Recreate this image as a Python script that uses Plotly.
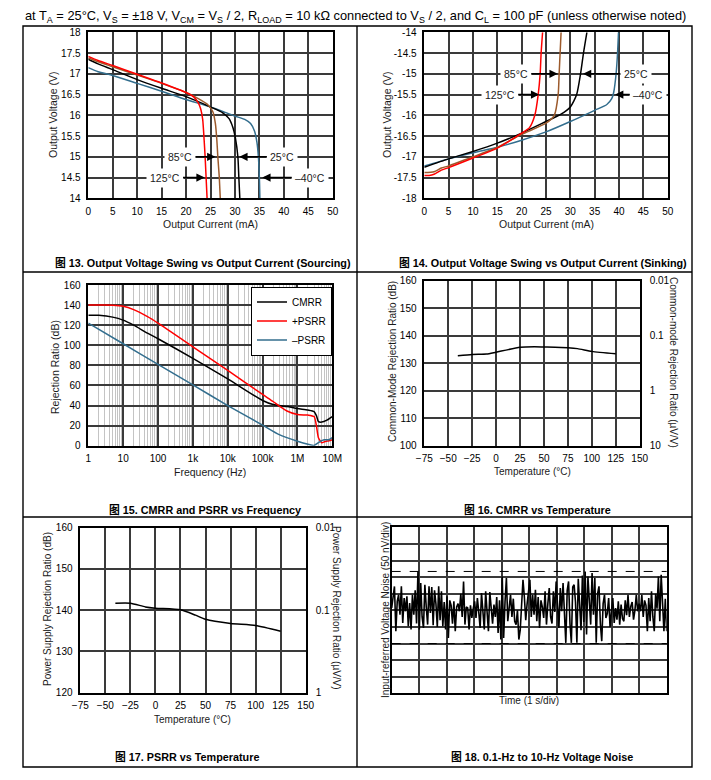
import plotly.graph_objects as go
import numpy as np

W, H = 711, 780
FONT = "Liberation Sans, Arial, Noto Sans CJK SC, sans-serif"

# ---------------- DATA ----------------
# Fig 13: sourcing (Output Current mA, Output Voltage V)
src_125_i = [0, 2, 5, 10, 15, 20, 21.5, 22.5, 23.0, 23.4, 23.7, 23.9, 24.1, 24.3]
src_125_v = [17.42, 17.32, 17.2, 16.99, 16.78, 16.55, 16.45, 16.3, 16.15, 15.9, 15.4, 15.0, 14.5, 14.0]
src_85_i = [0, 2, 5, 10, 15, 20, 22.5, 24.5, 25.5, 26.0, 26.3, 26.5, 26.8, 27.0]
src_85_v = [17.38, 17.29, 17.17, 16.97, 16.77, 16.55, 16.4, 16.25, 16.08, 15.8, 15.4, 15.0, 14.5, 14.0]
src_25_i = [0, 2, 5, 10, 15, 20, 25, 27.5, 28.8, 29.6, 30.1, 30.6, 30.8, 31.0]
src_25_v = [17.35, 17.24, 17.1, 16.86, 16.65, 16.45, 16.2, 16.06, 15.92, 15.7, 15.45, 15.0, 14.5, 14.0]
src_m40_i = [0, 2, 5, 10, 15, 20, 25, 28, 30, 32, 33.2, 34.0, 34.5, 34.8, 35.0, 35.1]
src_m40_v = [17.15, 17.05, 16.96, 16.77, 16.58, 16.38, 16.2, 16.07, 15.98, 15.9, 15.8, 15.62, 15.35, 15.0, 14.5, 14.0]

# Fig 14: sinking
snk_125_i = [0, 1, 2, 3.5, 5, 10, 15, 20, 21.6, 22.7, 23.4, 23.8, 24.0, 24.3]
snk_125_v = [-17.45, -17.45, -17.42, -17.32, -17.26, -17.03, -16.79, -16.43, -16.3, -16.0, -15.5, -15.0, -14.5, -14.0]
snk_85_i = [0, 2, 3.5, 5, 10, 15, 20, 25, 26.7, 27.5, 27.7, 27.9, 28.1]
snk_85_v = [-17.38, -17.36, -17.27, -17.22, -17.0, -16.77, -16.46, -16.19, -16.0, -15.5, -15.0, -14.5, -14.0]
snk_25_i = [0, 5, 10, 15, 20, 25, 28, 30, 31.3, 32.1, 32.7, 33.4]
snk_25_v = [-17.25, -17.05, -16.87, -16.67, -16.43, -16.15, -15.98, -15.8, -15.5, -15.0, -14.5, -14.0]
snk_m40_i = [0, 5, 10, 15, 20, 25, 30, 35, 37.5, 38.5, 38.9, 39.4, 39.7, 39.9]
snk_m40_v = [-17.22, -17.05, -16.9, -16.77, -16.6, -16.4, -16.15, -15.88, -15.74, -15.6, -15.45, -15.0, -14.5, -14.0]
snk_ytick_vals = [-18, -17.5, -17, -16.5, -16, -15.5, -15, -14.5, -14]
snk_ytick_text = ['-18', '-17.5', '-17', '-16.5', '-16', '-15.5', '-15', '-14.5', '-14']

# Fig 15: CMRR / PSRR vs frequency
f_cmrr = [1, 2, 5, 10, 20, 50, 100, 1e3, 1e4, 1e5, 2e5, 5e5, 1e6, 2e6, 3e6, 3.5e6, 4e6, 5e6, 7e6, 1e7]
cmrr_db = [130, 129.8, 128, 125, 120, 112, 106.5, 87, 66.5, 45, 41, 39, 37, 35.5, 34, 30, 24, 23.5, 25.5, 29]
f_psrr_p = [1, 3, 5, 10, 20, 50, 100, 1e3, 1e4, 1e5, 2e5, 3e5, 5e5, 1e6, 2e6, 3e6, 3.5e6, 4e6, 5e6, 6e6, 8e6, 1e7]
psrr_p_db = [140, 140, 139.8, 138.8, 135.5, 128.5, 122, 98.5, 75, 51, 44, 39.5, 34.5, 31, 30.5, 29, 20, 8, 3, 4, 5, 6]
f_psrr_n = [1, 10, 100, 1e3, 1e4, 1e5, 3e5, 1e6, 2e6, 3e6, 4e6, 5e6, 6e6, 8e6, 1e7]
psrr_n_db = [122, 101.5, 81, 60.5, 40, 20.5, 11, 4.5, 1.5, 0.3, 3, 5, 6, 6, 8]
freq_tick_vals = [1, 10, 100, 1e3, 1e4, 1e5, 1e6, 1e7]
freq_tick_text = ['1', '10', '100', '1k', '10k', '100k', '1M', '10M']

# Fig 16: CMRR vs temperature
temp_cmrr = [-40, -25, -10, 0, 25, 40, 50, 75, 85, 100, 125]
cmrr_temp_db = [132.7, 133.2, 133.3, 134.0, 135.8, 136.0, 135.9, 135.6, 135.3, 134.3, 133.4]
cmrr_right_vals = [160, 140, 120, 100]
cmrr_right_text = ['0.01', '0.1', '1', '10']

# Fig 17: PSRR vs temperature
temp_psrr = [-40, -25, -10, 0, 25, 40, 50, 75, 100, 125]
psrr_temp_db = [141.7, 141.7, 140.8, 140.5, 140.1, 138.8, 137.8, 136.8, 136.3, 134.9]
psrr_right_vals = [160, 140, 120]
psrr_right_text = ['0.01', '0.1', '1']

# Fig 18: 0.1-Hz to 10-Hz noise (nV)
noise_nv = [
    7, 47, 72, -63, 27, 47, -13, 72, -38, 37, -3, 42, -48, 22, -58, 47, -13, 60, -40, 117,
    -58, 82, -20, -53, 77, 10, -43, 72, -8, 70, -45, 60, 20, -50, 72, -30, 57, -48, 25, -58,
    42, -83, 30, 15, -40, 27, -63, 10, 20, -3, 50, -20, 87, -43, 10, 7, -58, 15, -23, 5,
    27, -23, 37, -5, -53, 52, -10, -58, 57, -20, -63, 55, 5, -40, 17, -20, 40, -68, 30, -88,
    102, -83, 25, 97, -33, 10, 47, -20, 35, -33, -43, 0, -88, -60, 15, 92, 40, -30, 20, 60,
    92, -20, 47, -13, 62, -33, 40, -53, 30, 10, -23, 57, -43, 20, 67, -20, -40, 57, -5, 87,
    20, -53, 67, -3, 82, -8, -98, 60, 87, -40, -98, 70, 77, 25, -98, 95, 30, -60, 105, -35,
    117, -73, 102, 10, -43, 112, -13, 97, -98, 50, 72, -40, -93, 20, 47, -23, -10, 37, -50, -3,
    37, -38, 7, -28, 27, -43, 17, -25, -33, 30, -15, 47, -20, 12, 25, -28, 0, 47, -3, 20,
    -3, 47, -20, 30, 15, -63, 37, -33, 57, -20, -63, 50, 5, 102, -33, 107, -5, -63, 35, -63,
]
noise_limits_nv = [117, -100]
noise_seconds = 10

# ---------------- STYLE / LAYOUT HELPERS ----------------
RED = '#ff0000'
BROWN = '#9c5a2c'
BLACK = '#000000'
BLUE = '#336e8e'
GRID = '#3a3a3a'


def fx(p):
    return p / W


def fy(p):
    return 1 - p / H


def xdom(a, b):
    return [fx(a), fx(b)]


def ydom(top, bottom):
    return [fy(bottom), fy(top)]


axis_common = dict(showgrid=True, gridcolor=GRID, gridwidth=1.7, showline=True,
                   linecolor='black', linewidth=1.5, mirror=True, zeroline=False,
                   ticks='', tickfont=dict(size=10, color='black', family=FONT),
                   fixedrange=True, automargin=False)
xa_common = dict(axis_common, ticklabelstandoff=3)
ya_common = dict(axis_common, ticklabelstandoff=4)
yr_common = dict(axis_common, ticklabelstandoff=9, showgrid=False, showline=False)

fig = go.Figure()


def line(x, y, color, xa, ya, name=None, legend=False, width=1.5):
    fig.add_trace(go.Scatter(x=x, y=y, mode='lines', name=name, showlegend=legend,
                             line=dict(color=color, width=width, shape='spline', smoothing=0.6),
                             xaxis=xa, yaxis=ya, hoverinfo='skip'))


# Fig 13
line(src_m40_i, src_m40_v, BLUE, 'x', 'y')
line(src_25_i, src_25_v, BLACK, 'x', 'y')
line(src_85_i, src_85_v, BROWN, 'x', 'y')
line(src_125_i, src_125_v, RED, 'x', 'y')
# Fig 14
line(snk_m40_i, snk_m40_v, BLUE, 'x2', 'y2')
line(snk_25_i, snk_25_v, BLACK, 'x2', 'y2')
line(snk_85_i, snk_85_v, BROWN, 'x2', 'y2')
line(snk_125_i, snk_125_v, RED, 'x2', 'y2')
# Fig 15
line(f_cmrr, cmrr_db, BLACK, 'x3', 'y3', 'CMRR', True)
line(f_psrr_p, psrr_p_db, RED, 'x3', 'y3', '+PSRR', True)
line(f_psrr_n, psrr_n_db, BLUE, 'x3', 'y3', '\u2013PSRR', True)
# Fig 16
line(temp_cmrr, cmrr_temp_db, BLACK, 'x4', 'y4')
fig.add_trace(go.Scatter(x=temp_cmrr, y=cmrr_temp_db, mode='lines', showlegend=False,
                         line=dict(color='rgba(0,0,0,0)'), xaxis='x4', yaxis='y7', hoverinfo='skip'))
# Fig 17
line(temp_psrr, psrr_temp_db, BLACK, 'x5', 'y5')
fig.add_trace(go.Scatter(x=temp_psrr, y=psrr_temp_db, mode='lines', showlegend=False,
                         line=dict(color='rgba(0,0,0,0)'), xaxis='x5', yaxis='y8', hoverinfo='skip'))
# Fig 18
t_noise = np.linspace(0, noise_seconds, len(noise_nv))
fig.add_trace(go.Scatter(x=t_noise, y=noise_nv, mode='lines', showlegend=False,
                         line=dict(color='black', width=1.6), xaxis='x6', yaxis='y6', hoverinfo='skip'))

# axes
fig.update_layout(
    xaxis=dict(xa_common, domain=xdom(88.3, 332.7), anchor='y', range=[0, 50], dtick=5, tick0=0),
    yaxis=dict(ya_common, domain=ydom(32.3, 198.3), anchor='x', range=[14, 18], dtick=0.5, tick0=14),
    xaxis2=dict(xa_common, domain=xdom(424.3, 667.7), anchor='y2', range=[0, 50], dtick=5, tick0=0),
    yaxis2=dict(ya_common, domain=ydom(32.3, 198.3), anchor='x2', range=[-18, -14],
                tickmode='array', tickvals=snk_ytick_vals, ticktext=snk_ytick_text),
    xaxis3=dict(xa_common, domain=xdom(88.3, 332.3), anchor='y3', type='log', range=[0, 7],
                tickmode='array', tickvals=freq_tick_vals, ticktext=freq_tick_text,
                minor=dict(showgrid=True, gridcolor='#c4c4c4', gridwidth=1, dtick='D1', ticks='')),
    yaxis3=dict(ya_common, domain=ydom(285, 445.7), anchor='x3', range=[0, 160], dtick=20, tick0=0),
    xaxis4=dict(xa_common, domain=xdom(424.3, 639.7), anchor='y4', range=[-75, 150], dtick=25, tick0=-75),
    yaxis4=dict(ya_common, domain=ydom(280.7, 445.7), anchor='x4', range=[100, 160], dtick=10, tick0=100),
    yaxis7=dict(yr_common, overlaying='y4', side='right', anchor='x4', range=[100, 160],
                tickmode='array', tickvals=cmrr_right_vals, ticktext=cmrr_right_text),
    xaxis5=dict(xa_common, domain=xdom(80.3, 305.7), anchor='y5', range=[-75, 150], dtick=25, tick0=-75),
    yaxis5=dict(ya_common, domain=ydom(527.7, 692.7), anchor='x5', range=[120, 160], dtick=10, tick0=120),
    yaxis8=dict(yr_common, overlaying='y5', side='right', anchor='x5', range=[120, 160],
                tickmode='array', tickvals=psrr_right_vals, ticktext=psrr_right_text),
    xaxis6=dict(xa_common, domain=xdom(391.7, 666.7), anchor='y6', range=[0, noise_seconds], dtick=1,
                showticklabels=False),
    yaxis6=dict(ya_common, domain=ydom(527.3, 693.3), anchor='x6', range=[-250, 250], dtick=50,
                tick0=-250, showticklabels=False),
)

# noise limit dashed lines
for lv in noise_limits_nv:
    fig.add_shape(type='line', xref='x6 domain', yref='y6', x0=0, x1=1, y0=lv, y1=lv,
                  line=dict(color='black', width=1, dash='dash'))

# table borders
tbl = dict(color='black', width=1.4)
fig.add_shape(type='rect', xref='paper', yref='paper', x0=fx(23), x1=fx(692), y0=fy(767), y1=fy(26), line=tbl)
fig.add_shape(type='line', xref='paper', yref='paper', x0=fx(357), x1=fx(357), y0=fy(767), y1=fy(26), line=tbl)
for yy in (272, 517):
    fig.add_shape(type='line', xref='paper', yref='paper', x0=fx(23), x1=fx(692), y0=fy(yy), y1=fy(yy), line=tbl)

ann = []
TF = dict(size=10.5, color='#1a1a1a', family=FONT)
TFS = dict(size=10, color='#1a1a1a', family=FONT)


def htitle(text, x, y, font=TF):
    ann.append(dict(text=text, x=fx(x), y=fy(y), xref='paper', yref='paper', showarrow=False,
                    font=font, xanchor='center', yanchor='middle'))


def vtitle(text, x, y, angle, font=TF):
    ann.append(dict(text=text, x=fx(x), y=fy(y), xref='paper', yref='paper', showarrow=False,
                    textangle=angle, font=font, xanchor='center', yanchor='middle'))


vtitle('Output Voltage (V)', 53, 115, -90)
htitle('Output Current (mA)', 210, 224)
vtitle('Output Voltage (V)', 387, 115, -90)
htitle('Output Current (mA)', 546, 224)
vtitle('Rejection Ratio (dB)', 55, 367, -90)
htitle('Frequency (Hz)', 210, 472)
vtitle('Common-Mode Rejection Ratio (dB)', 392, 362, -90, TFS)
htitle('Temperature (\u00b0C)', 532, 472, TFS)
vtitle('Common-mode Rejection Ratio (\u00b5V/V)', 674, 362, 90, TFS)
vtitle('Power Supply Rejection Ratio (dB)', 47, 609, -90, TFS)
htitle('Temperature (\u00b0C)', 193, 719, TFS)
vtitle('Power Supply Rejection Ratio (\u00b5V/V)', 337, 608, 90, TFS)
vtitle('Input-referred Voltage Noise (50 nV/div)', 385, 610, -90, TFS)
htitle('Time (1 s/div)', 529, 700, TFS)

# captions
CF = dict(size=10.8, color='black', family=FONT)
for text, x, y in [
    ('<b>\u56fe 13. Output Voltage Swing vs Output Current (Sourcing)</b>', 203, 263),
    ('<b>\u56fe 14. Output Voltage Swing vs Output Current (Sinking)</b>', 543, 263),
    ('<b>\u56fe 15. CMRR and PSRR vs Frequency</b>', 205, 510),
    ('<b>\u56fe 16. CMRR vs Temperature</b>', 537, 510),
    ('<b>\u56fe 17. PSRR vs Temperature</b>', 187, 757),
    ('<b>\u56fe 18. 0.1-Hz to 10-Hz Voltage Noise</b>', 542, 757),
]:
    ann.append(dict(text=text, x=fx(x), y=fy(y), xref='paper', yref='paper', showarrow=False,
                    font=CF, xanchor='center', yanchor='middle'))

# header
ann.append(dict(text='at T<sub>A</sub> = 25\u00b0C, V<sub>S</sub> = \u00b118 V, V<sub>CM</sub> = V<sub>S</sub> / 2, '
                     'R<sub>LOAD</sub> = 10 k\u03a9 connected to V<sub>S</sub> / 2, and C<sub>L</sub> = 100 pF '
                     '(unless otherwise noted)',
                x=fx(23), y=fy(16), xref='paper', yref='paper', showarrow=False, xanchor='left',
                yanchor='middle', font=dict(size=12.8, color='black', family=FONT)))

# temperature labels with arrows
LF = dict(size=10.5, color='#1a1a1a', family=FONT)


def arrow_label(text, tip_x, text_x, yv, xa, ya):
    ann.append(dict(text=text, x=tip_x, y=yv, ax=text_x, ay=yv, xref=xa, yref=ya,
                    axref=xa, ayref=ya, showarrow=True, arrowhead=2, arrowsize=1.1,
                    arrowwidth=1.5, arrowcolor='black', bgcolor='white', borderpad=3,
                    font=LF))


arrow_label('85\u00b0C', 26.0, 18.8, 15.0, 'x', 'y')
arrow_label('25\u00b0C', 30.9, 39.7, 15.0, 'x', 'y')
arrow_label('125\u00b0C', 23.8, 15.6, 14.5, 'x', 'y')
arrow_label('\u201340\u00b0C', 35.6, 45.4, 14.5, 'x', 'y')
arrow_label('85\u00b0C', 27.4, 18.8, -15.0, 'x2', 'y2')
arrow_label('25\u00b0C', 32.6, 43.4, -15.0, 'x2', 'y2')
arrow_label('125\u00b0C', 23.6, 15.5, -15.5, 'x2', 'y2')
arrow_label('\u201340\u00b0C', 39.2, 46.0, -15.5, 'x2', 'y2')

fig.update_layout(
    annotations=ann,
    width=W, height=H,
    margin=dict(l=0, r=0, t=0, b=0, autoexpand=False),
    paper_bgcolor='white', plot_bgcolor='white',
    font=dict(family=FONT, color='black'),
    showlegend=True,
    legend=dict(x=fx(332), y=fy(286.5), xanchor='right', yanchor='top', bgcolor='white',
                bordercolor='black', borderwidth=1, font=dict(size=10, family=FONT, color='black'),
                tracegroupgap=0, itemwidth=30),
)

fig.write_html('out.html', config={'displayModeBar': False},
               post_script="document.body.style.margin='0px';")
